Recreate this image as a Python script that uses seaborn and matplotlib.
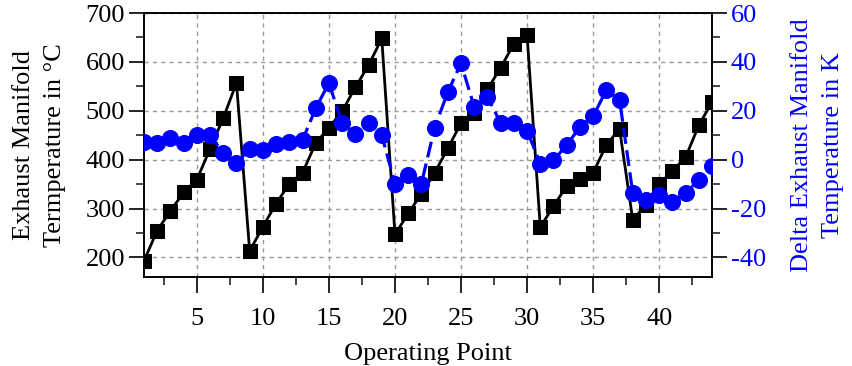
import numpy as np
import pandas as pd
import matplotlib
matplotlib.use("Agg")
import matplotlib.pyplot as plt
import seaborn as sns
from matplotlib.ticker import MultipleLocator

op_point = list(range(1, 45))
exhaust_temp = [193, 255, 295, 333, 359, 422, 485, 557, 213, 263, 310, 351, 373, 434, 465,
                499, 548, 593, 648, 247, 290, 330, 373, 423, 475, 495, 544, 588, 637, 655,
                262, 305, 346, 360, 373, 430, 463, 277, 308, 350, 377, 405, 470, 518]
delta_temp = [7.3, 6.9, 8.9, 6.9, 10, 10, 2.7, -1.2, 4.3, 3.9, 6.3, 7.3, 8.0, 21, 31.4,
              14.8, 10.7, 15, 10, -9.8, -6.4, -9.8, 13, 27.7, 39.4, 21.6, 25.7, 15, 15, 11.8,
              -1.6, -0.2, 5.9, 13.4, 17.8, 28.4, 24.6, -13.6, -16.6, -14.6, -17.3, -13.5, -8.4, -2.6]

df = pd.DataFrame({"op": op_point, "temp": exhaust_temp, "delta": delta_temp})

sns.set_theme(style="ticks")
plt.rcParams["font.family"] = ["Liberation Serif", "DejaVu Serif"]
plt.rcParams["axes.unicode_minus"] = False

fig = plt.figure(figsize=(8.53, 3.66), dpi=100)
ax = fig.add_axes([144/853, 1-277/366, (712-144)/853, (277-13)/366])
ax2 = ax.twinx()

sns.lineplot(data=df, x="op", y="temp", ax=ax, color="black", marker="s",
             markersize=9.5, markeredgecolor="black", linewidth=2, zorder=3)
sns.lineplot(data=df, x="op", y="delta", ax=ax2, color="#0000ff", marker="o",
             markersize=11.5, markeredgecolor="#0000ff", linewidth=2.3,
             linestyle=(0, (5, 2)), zorder=3)

ax.set_xlim(1, 44)
ax.set_ylim(160, 700)
ax2.set_ylim(-48, 60)

ax.xaxis.set_major_locator(MultipleLocator(5))
ax.xaxis.set_minor_locator(MultipleLocator(2.5))
ax.yaxis.set_major_locator(MultipleLocator(100))
ax.yaxis.set_minor_locator(MultipleLocator(50))
ax2.yaxis.set_major_locator(MultipleLocator(20))
ax2.yaxis.set_minor_locator(MultipleLocator(10))

ax.grid(True, which="major", linestyle=(0, (3, 3)), color="#999999", linewidth=1)
ax2.grid(False)

fs = 19
ax.tick_params(axis="both", which="major", labelsize=fs, direction="out",
               width=1.2, colors="black")
ax.tick_params(axis="y", which="major", length=10.5, pad=3)
ax.tick_params(axis="x", which="major", length=11.5, pad=11)
ax.tick_params(axis="both", which="minor", direction="out", length=5.5, width=1.2)
ax2.tick_params(axis="y", which="major", labelsize=fs, direction="out", length=10.5,
                width=1.2, labelcolor="#0000ff", color="black", pad=3)
ax2.tick_params(axis="y", which="minor", direction="out", length=5.5, width=1.2)

for sp in list(ax.spines.values()) + list(ax2.spines.values()):
    sp.set_color("black")
    sp.set_linewidth(1.2)

ax.set_xlabel("Operating Point", fontsize=fs, color="black", labelpad=9)
ax.set_ylabel("Exhaust Manifold\nTermperature in °C", fontsize=fs, color="black",
              labelpad=14, linespacing=1.55)
ax2.set_ylabel("Delta Exhaust Manifold\nTemperature in K", fontsize=fs, color="#0000ff",
               labelpad=18, linespacing=1.55)

fig.savefig("out.png", dpi=100)
